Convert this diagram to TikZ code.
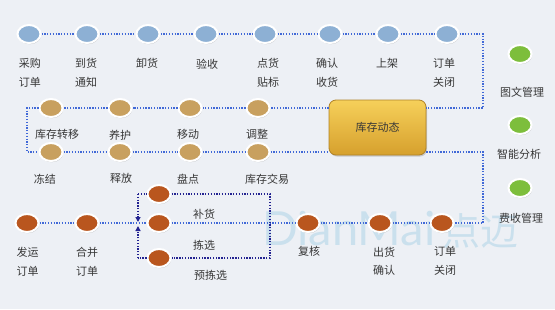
\documentclass[tikz,border=0pt]{standalone}
\usepackage{fontspec}
\setmainfont{Noto Sans CJK SC}
\newfontfamily\wmfont{Lato}
\usetikzlibrary{positioning}
\usetikzlibrary{shapes.geometric}
\usetikzlibrary{shadows}
\usetikzlibrary{arrows.meta}

\definecolor{bgcol}{RGB}{237,240,245}
\definecolor{dotblue}{RGB}{141,176,212}
\definecolor{dottan}{RGB}{200,160,95}
\definecolor{dotrust}{RGB}{185,86,30}
\definecolor{dotgreen}{RGB}{125,190,60}
\definecolor{linkblue}{RGB}{65,105,215}
\definecolor{navy}{RGB}{35,35,145}
\definecolor{lblgray}{RGB}{55,55,55}
\definecolor{goldtop}{RGB}{246,208,90}
\definecolor{goldbot}{RGB}{214,160,45}
\definecolor{goldedge}{RGB}{175,130,40}
\definecolor{wmblue}{RGB}{150,200,225}

\tikzset{
    dotnode/.style={ellipse, minimum width=23pt, minimum height=18pt, inner sep=0pt,
        draw=white, line width=2pt,
        drop shadow={shadow xshift=0.6pt, shadow yshift=-1.2pt, opacity=0.3, fill=black!60}},
    bluedot/.style={dotnode, fill=dotblue},
    tandot/.style={dotnode, fill=dottan},
    rustdot/.style={dotnode, fill=dotrust},
    greendot/.style={dotnode, fill=dotgreen},
    lbl/.style={font=\fontsize{11}{18.5}\selectfont, text=lblgray, align=center,
        anchor=north, inner sep=0pt},
    linkline/.style={draw=linkblue, line width=1.4pt, dash pattern=on 1.3pt off 1.5pt},
    branchline/.style={draw=navy, line width=1.3pt, dash pattern=on 1.3pt off 1.5pt},
    dynbox/.style={rounded corners=7pt, minimum width=97pt, minimum height=55pt,
        top color=goldtop, bottom color=goldbot, draw=goldedge, line width=0.8pt,
        font=\fontsize{11}{13}\selectfont, text=lblgray,
        drop shadow={shadow xshift=1pt, shadow yshift=-1.5pt, opacity=0.35}},
    wmark/.style={anchor=base west, inner sep=0pt, text=wmblue, text opacity=0.4},
}

\begin{document}
\begin{tikzpicture}[x=1pt, y=-1pt]

    % 背景
    \fill[bgcol] (0,0) rectangle (555,309);
    \useasboundingbox (0,0) rectangle (555,309);

    % 水印
    \node[wmark] (wm) at (262,245)
        {\wmfont\fontsize{47}{47}\selectfont DianMai\hspace{7pt}\rmfamily\fontsize{38}{38}\selectfont 点迈};

    % 上行：入库流程
    \node[bluedot] (T1) at (29,34) {};
    \node[bluedot] (T2) at (87,34) {};
    \node[bluedot] (T3) at (148,34) {};
    \node[bluedot] (T4) at (206,34) {};
    \node[bluedot] (T5) at (265,34) {};
    \node[bluedot] (T6) at (330,34) {};
    \node[bluedot] (T7) at (388,34) {};
    \node[bluedot] (T8) at (447,34) {};
    \node[lbl] (T1l) at (30,58.5)  {采购\\订单};
    \node[lbl] (T2l) at (86,58.5)  {到货\\通知};
    \node[lbl] (T3l) at (147,58.5) {卸货};
    \node[lbl] (T4l) at (207,58.5) {验收};
    \node[lbl] (T5l) at (268,58.5) {点货\\贴标};
    \node[lbl] (T6l) at (327,58.5) {确认\\收货};
    \node[lbl] (T7l) at (387,58.5) {上架};
    \node[lbl] (T8l) at (444,58.5) {订单\\关闭};

    % 中间：库存动态
    \node[dynbox] (dyn) at (377.5,127.5) {库存动态};
    \node[tandot] (M1) at (51,108) {};
    \node[tandot] (M2) at (120,108) {};
    \node[tandot] (M3) at (190,108) {};
    \node[tandot] (M4) at (258,108) {};
    \node[tandot] (N1) at (51,152) {};
    \node[tandot] (N2) at (120,152) {};
    \node[tandot] (N3) at (190,152) {};
    \node[tandot] (N4) at (258,152) {};
    \node[lbl] (M1l) at (57,129.5)  {库存转移};
    \node[lbl] (M2l) at (120,129.5) {养护};
    \node[lbl] (M3l) at (188,129.5) {移动};
    \node[lbl] (M4l) at (257,129.5) {调整};
    \node[lbl] (N1l) at (45,173.5)  {冻结};
    \node[lbl] (N2l) at (121,173.5) {释放};
    \node[lbl] (N3l) at (188,173.5) {盘点};
    \node[lbl] (N4l) at (267,173.5) {库存交易};

    % 下行：出库流程
    \node[rustdot] (B1) at (27,223) {};
    \node[rustdot] (B2) at (87,223) {};
    \node[rustdot] (P1) at (159,194) {};
    \node[rustdot] (P2) at (159,223) {};
    \node[rustdot] (P3) at (159,258) {};
    \node[rustdot] (C1) at (308,223) {};
    \node[rustdot] (C2) at (380,223) {};
    \node[rustdot] (C3) at (442,223) {};
    \node[lbl] (B1l) at (27.5,247.5) {发运\\订单};
    \node[lbl] (B2l) at (87,247.5)   {合并\\订单};
    \node[lbl] (P1l) at (204,208.5)  {补货};
    \node[lbl] (P2l) at (204,239.5)  {拣选};
    \node[lbl] (P3l) at (210.5,269.5) {预拣选};
    \node[lbl] (C1l) at (309,246.5)  {复核};
    \node[lbl] (C2l) at (384,246.5)  {出货\\确认};
    \node[lbl] (C3l) at (445,246.5)  {订单\\关闭};

    % 右列
    \node[greendot] (G1) at (520,54) {};
    \node[greendot] (G2) at (520,125) {};
    \node[greendot] (G3) at (520,188) {};
    \node[lbl] (G1l) at (522,86.5)  {图文管理};
    \node[lbl] (G2l) at (519,149.5) {智能分析};
    \node[lbl] (G3l) at (521,213.5) {费收管理};

    % 绘图辅助坐标
    \coordinate (RT) at (483,34);
    \coordinate (R1) at (483,108);
    \coordinate (R2) at (483,152);
    \coordinate (RB) at (483,223);
    \coordinate (LT) at (27,108);
    \coordinate (LB) at (27,152);
    \coordinate (BJ) at (138,223);
    \coordinate (BrTL) at (138,194);
    \coordinate (BrTR) at (270,194);
    \coordinate (BrBR) at (270,258);
    \coordinate (BrBL) at (138,258);
    \coordinate (ArD) at (138,222);
    \coordinate (ArU) at (138,226);

    % 连线：上行
    \draw[linkline] (T1) -- (T2) (T2) -- (T3) (T3) -- (T4) (T4) -- (T5)
        (T5) -- (T6) (T6) -- (T7) (T7) -- (T8);
    \draw[linkline] (T8) -- (RT) -- (R1) -- (R1 -| dyn.east);
    % 连线：库存动态
    \draw[linkline] (R1 -| dyn.west) -- (M4) (M4) -- (M3) (M3) -- (M2) (M2) -- (M1);
    \draw[linkline] (M1) -- (LT) -- (LB) -- (N1);
    \draw[linkline] (N1) -- (N2) (N2) -- (N3) (N3) -- (N4) (N4) -- (R2 -| dyn.west);
    \draw[linkline] (R2 -| dyn.east) -- (R2) -- (RB) -- (C3);
    % 连线：下行
    \draw[linkline] (B1) -- (B2) (B2) -- (BJ) -- (P2) (P2) -- (C1) (C1) -- (C2) (C2) -- (C3);
    % 拣选分支
    \draw[branchline] (BrTL) -- (P1) (P1) -- (BrTR) -- (BrBR) -- (P3) (P3) -- (BrBL);
    \draw[branchline, -{Triangle[width=5pt, length=5pt]}] (BrTL) -- (ArD);
    \draw[branchline, -{Triangle[width=5pt, length=5pt]}] (BrBL) -- (ArU);

\end{tikzpicture}
\end{document}
